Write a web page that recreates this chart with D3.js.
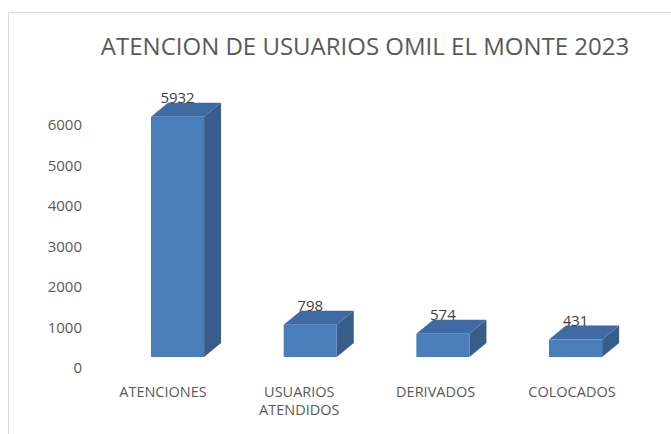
<!DOCTYPE html>
<html>
<head>
<meta charset="utf-8">
<script src="https://cdn.jsdelivr.net/npm/d3@7"></script>
<style>
  body { margin: 0; background: #fff; }
  svg { display: block; font-family: "Open Sans", sans-serif; }
</style>
</head>
<body>
<svg class="chart_svg" width="671" height="434"></svg>
<script>
// data
const categories = ["ATENCIONES", "USUARIOS ATENDIDOS", "DERIVADOS", "COLOCADOS"]
const values = [5932, 798, 574, 431]
const yTicks = [0, 1000, 2000, 3000, 4000, 5000, 6000]
const title = "ATENCION DE USUARIOS OMIL EL MONTE 2023"

const svg = d3.select("svg.chart_svg")

// 3d look: depth offset of the boxes
const depth = { dx: 17, dy: -14 }

const x = d3.scaleBand()
    .domain(categories)
    .range([151, 151 + 3 * 132.7 + 53])
    .paddingInner(0.6)
    .paddingOuter(0)

const y = d3.scaleLinear()
    .domain([0, 6000])
    .range([357, 114])

// category labels sit in front of the floor, so a bit left of the bars
const xLabel = d3.scalePoint()
    .domain(categories)
    .range([163, 572])

// chart frame (only top and left edges visible)
svg.append("path")
    .attr("d", "M8.5,434 V12.5 H671")
    .attr("fill", "none")
    .attr("stroke", "#d9d9d9")
    .attr("stroke-width", 1)

svg.append("text")
    .attr("x", 365)
    .attr("y", 55)
    .attr("text-anchor", "middle")
    .attr("font-size", 24)
    .attr("fill", "#595959")
    .text(title)

// y axis, labels drawn on the back wall so shifted down a bit
const yAxis = svg.append("g")
    .attr("transform", "translate(82,11)")
    .call(d3.axisLeft(y).tickValues(yTicks).tickFormat(d3.format("d")).tickSize(0).tickPadding(0))
yAxis.select(".domain").remove()
yAxis.selectAll("text")
    .attr("font-family", "'Open Sans', sans-serif")
    .attr("font-size", 15)
    .attr("fill", "#595959")

const bars = svg.append("g")
    .selectAll("g")
    .data(categories.map((c, i) => ({ c, v: values[i] })))
    .join("g")

const w = x.bandwidth()

// side face
bars.append("path")
    .attr("fill", "#385d8a")
    .attr("d", d => {
        const x1 = x(d.c) + w, yt = y(d.v), yb = y(0)
        return `M${x1},${yt} L${x1 + depth.dx},${yt + depth.dy} L${x1 + depth.dx},${yb + depth.dy} L${x1},${yb} Z`
    })

// top face
bars.append("path")
    .attr("fill", "#3f6aa3")
    .attr("d", d => {
        const x0 = x(d.c), yt = y(d.v)
        return `M${x0},${yt} L${x0 + depth.dx},${yt + depth.dy} L${x0 + w + depth.dx},${yt + depth.dy} L${x0 + w},${yt} Z`
    })

// front face
bars.append("rect")
    .attr("fill", "#4a7ebb")
    .attr("x", d => x(d.c))
    .attr("y", d => y(d.v))
    .attr("width", w)
    .attr("height", d => y(0) - y(d.v))

bars.append("text")
    .attr("x", d => x(d.c) + w / 2)
    .attr("y", d => y(d.v) + depth.dy)
    .attr("text-anchor", "middle")
    .attr("font-size", 15)
    .attr("fill", "#404040")
    .text(d => d.v)

// category labels, the long one wraps in two lines
svg.append("g")
    .selectAll("text")
    .data(categories)
    .join("text")
    .attr("x", d => xLabel(d))
    .attr("y", 397)
    .attr("text-anchor", "middle")
    .attr("font-size", 14.5)
    .attr("fill", "#595959")
    .each(function (d) {
        const words = d === "USUARIOS ATENDIDOS" ? d.split(" ") : [d]
        words.forEach((wd, i) => {
            d3.select(this).append("tspan")
                .attr("x", xLabel(d))
                .attr("dy", i === 0 ? 0 : 18)
                .text(wd)
        })
    })
</script>
</body>
</html>
